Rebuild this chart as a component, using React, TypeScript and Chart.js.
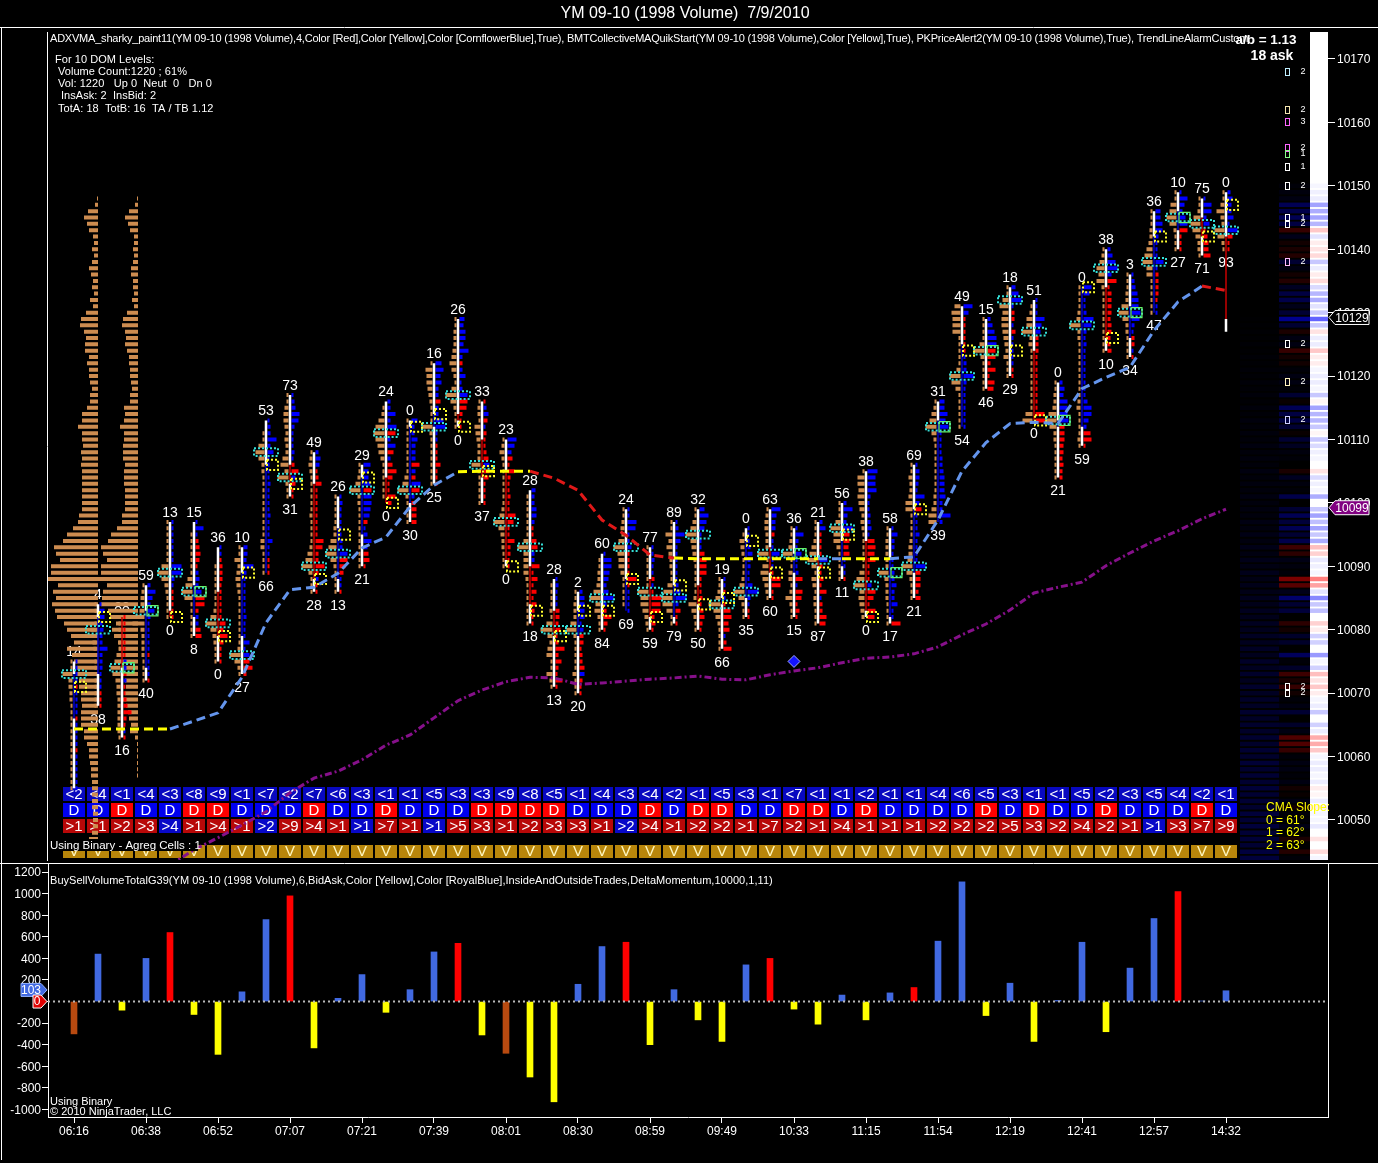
import React, { useEffect, useRef } from "react";
import { Chart, registerables } from "chart.js";

Chart.register(...registerables);

const FONT = '"Liberation Sans", Arial, sans-serif';

// ---------- axis labels ----------
const priceTicks = [10050, 10060, 10070, 10080, 10090, 10100, 10110, 10120, 10130, 10140, 10150, 10160, 10170];
const deltaTicks = [-1000, -800, -600, -400, -200, 0, 200, 400, 600, 800, 1000, 1200];
const timeTickIndex = [0, 3, 6, 9, 12, 15, 18, 21, 24, 27, 30, 33, 36, 39, 42, 45, 48];
const timeLabels = ["06:16", "06:38", "06:52", "07:07", "07:21", "07:39", "08:01", "08:30", "08:59", "09:49", "10:33", "11:15", "11:54", "12:19", "12:41", "12:57", "14:32"];

// ---------- price bars ----------
const highs = [10075, 10084, 10082, 10087, 10097, 10097, 10093, 10093, 10113, 10117, 10108, 10101, 10106, 10116, 10113, 10122, 10129, 10116, 10110, 10102, 10088, 10086, 10092, 10099, 10093, 10097, 10099, 10088, 10096, 10099, 10096, 10097, 10100, 10105, 10096, 10106, 10116, 10131, 10129, 10134, 10132, 10119, 10134, 10140, 10136, 10146, 10149, 10148, 10149];
const lows = [10055, 10068, 10063, 10072, 10082, 10079, 10075, 10073, 10089, 10101, 10086, 10086, 10090, 10100, 10097, 10103, 10112, 10100, 10090, 10081, 10071, 10070, 10080, 10083, 10080, 10081, 10080, 10077, 10082, 10085, 10082, 10081, 10088, 10082, 10081, 10085, 10097, 10112, 10118, 10120, 10113, 10104, 10109, 10124, 10123, 10130, 10140, 10139, 10127];
const bodyTops = [10073, 10082, 10082, 10083, 10083, 10087, 10086, 10089, 10106, 10106, 10103, 10096, 10104, 10104, 10112, 10114, 10114, 10110, 10105, 10090, 10083, 10083, 10080, 10088, 10088, 10087, 10087, 10085, 10094, 10093, 10092, 10091, 10094, 10094, 10091, 10099, 10113, 10125, 10118, 10120, 10124, 10113, 10134, 10134, 10131, 10142, 10146, 10145, 10142];
const bodyBottoms = [10066, 10073, 10074, 10074, 10082, 10082, 10079, 10079, 10089, 10103, 10088, 10088, 10095, 10100, 10100, 10112, 10113, 10104, 10091, 10084, 10079, 10079, 10080, 10083, 10082, 10082, 10084, 10084, 10085, 10089, 10089, 10090, 10090, 10083, 10082, 10089, 10097, 10112, 10118, 10120, 10113, 10112, 10112, 10126, 10126, 10130, 10143, 10142, 10129];
const barUp = [1, 1, 0, 1, 0, 1, 0, 1, 1, 0, 0, 1, 1, 0, 1, 1, 0, 0, 0, 0, 0, 1, 0, 1, 0, 1, 0, 1, 1, 0, 1, 0, 1, 0, 1, 1, 1, 1, 0, 1, 0, 1, 1, 0, 1, 1, 1, 0, 0];
const topLabels = ["14", "4", "88", "59", "13", "15", "36", "10", "53", "73", "49", "26", "29", "24", "0", "16", "26", "33", "23", "28", "28", "2", "60", "24", "77", "89", "32", "19", "0", "63", "36", "21", "56", "38", "58", "69", "31", "49", "15", "18", "51", "0", "0", "38", "3", "36", "10", "75", "0"];
const bottomLabels = ["", "38", "16", "40", "0", "8", "0", "27", "66", "31", "28", "13", "21", "0", "30", "25", "0", "37", "0", "18", "13", "20", "84", "69", "59", "79", "50", "66", "35", "60", "15", "87", "11", "0", "17", "21", "39", "54", "46", "29", "0", "21", "59", "10", "34", "47", "27", "71", "93"];
const bottomLabelPrices = [10055, 10068, 10063, 10072, 10082, 10079, 10075, 10073, 10089, 10101, 10086, 10086, 10090, 10100, 10097, 10103, 10112, 10100, 10090, 10081, 10071, 10070, 10080, 10083, 10080, 10081, 10080, 10077, 10082, 10085, 10082, 10081, 10088, 10082, 10081, 10085, 10097, 10112, 10118, 10120, 10113, 10104, 10109, 10124, 10123, 10130, 10140, 10139, 10140];
const pocPrices = [10073, 10080, 10074, 10083, 10089, 10086, 10081, 10076, 10108, 10104, 10090, 10092, 10102, 10111, 10102, 10112, 10117, 10106, 10097, 10093, 10080, 10080, 10085, 10093, 10086, 10085, 10095, 10084, 10086, 10092, 10092, 10091, 10096, 10087, 10089, 10090, 10112, 10120, 10124, 10132, 10127, 10113, 10128, 10137, 10130, 10138, 10145, 10144, 10143];
const markerPrices = [10071, 10082, 10074, 10083, 10082, 10086, 10079, 10089, 10106, 10103, 10088, 10095, 10104, 10100, 10112, 10114, 10112, 10105, 10090, 10083, 10079, 10083, 10083, 10088, 10082, 10087, 10084, 10085, 10094, 10089, 10092, 10089, 10095, 10082, 10089, 10099, 10112, 10124, 10124, 10124, 10113, 10113, 10134, 10126, 10130, 10142, 10145, 10142, 10147];
const markerGreen = [0, 0, 1, 1, 0, 1, 0, 0, 0, 0, 0, 0, 0, 0, 0, 0, 0, 0, 0, 0, 0, 0, 0, 0, 0, 0, 0, 0, 0, 0, 1, 0, 0, 0, 1, 0, 1, 0, 1, 0, 0, 1, 0, 0, 1, 0, 1, 0, 0];

// Footprint ladders: from each bar's high downward, one entry per point
const bidLadders = [
  [1, 1, 10, 4, 4, 3, 3, 2, 2, 2, 2, 2, 1, 1, 1, 1, 1, 1, 1, 1, 1],
  [1, 1, 1, 2, 6, 12, 4, 3, 2, 2, 2, 2, 2, 2, 2, 1, 1],
  [1, 1, 1, 1, 1, 2, 4, 6, 10, 8, 5, 4, 4, 3, 3, 3, 3, 3, 3, 1],
  [2, 3, 4, 4, 5, 8, 12, 4, 3, 3, 3, 3, 2, 2, 2, 1],
  [1, 1, 1, 1, 1, 1, 2, 7, 11, 7, 4, 3, 2, 1, 1, 1],
  [0, 0, 1, 1, 1, 1, 1, 1, 2, 5, 7, 11, 8, 2, 2, 2, 2, 1, 1],
  [0, 0, 0, 1, 1, 1, 1, 1, 1, 2, 3, 6, 11, 6, 4, 3, 2, 2, 1],
  [2, 2, 6, 3, 4, 5, 4, 3, 2, 2, 2, 2, 2, 2, 2, 2, 3, 11, 6, 3, 1],
  [0, 0, 1, 2, 6, 9, 6, 3, 3, 2, 2, 1, 1, 1, 1, 1, 2, 2, 1, 4, 4, 2, 1, 1, 1],
  [1, 1, 4, 5, 5, 4, 3, 4, 3, 3, 6, 8, 4, 11, 3, 2, 1],
  [1, 3, 4, 3, 2, 2, 1, 1, 1, 1, 3, 2, 2, 2, 2, 3, 5, 7, 11, 4, 2, 1, 1],
  [1, 1, 2, 2, 2, 3, 3, 6, 8, 11, 6, 3, 2, 1, 1, 1],
  [1, 1, 3, 5, 11, 3, 3, 2, 2, 1, 1, 1, 1, 1, 1, 1, 1],
  [0, 1, 3, 6, 9, 11, 9, 7, 6, 4, 2, 2, 1, 1, 1, 1, 0],
  [1, 1, 1, 1, 1, 2, 2, 2, 2, 4, 6, 11, 3, 2, 1, 1, 1],
  [1, 7, 6, 6, 5, 4, 3, 2, 2, 2, 11, 3, 2, 2, 1, 1, 1, 1, 1, 1],
  [1, 2, 3, 3, 3, 4, 5, 7, 5, 3, 2, 5, 11, 6, 3, 1, 1, 1],
  [1, 3, 3, 2, 6, 5, 4, 3, 3, 3, 9, 3, 2, 2, 1, 1, 1],
  [1, 3, 5, 3, 2, 1, 1, 1, 1, 1, 2, 3, 5, 11, 6, 4, 3, 3, 2, 1, 1],
  [0, 1, 1, 1, 1, 1, 1, 2, 5, 11, 5, 5, 5, 5, 3, 2, 2, 1, 1, 1, 1, 1],
  [0, 1, 1, 2, 2, 3, 2, 6, 12, 5, 3, 5, 6, 2, 2, 6, 3, 1],
  [1, 2, 3, 3, 3, 6, 10, 3, 2, 2, 2, 2, 2, 4, 2, 1, 1],
  [0, 1, 2, 3, 3, 4, 7, 11, 5, 6, 3, 2, 1],
  [1, 1, 3, 4, 3, 6, 11, 7, 6, 6, 4, 2, 1, 1, 1, 1, 0],
  [1, 1, 1, 2, 2, 1, 2, 11, 8, 8, 6, 4, 3, 1],
  [1, 1, 7, 4, 6, 4, 3, 3, 1, 2, 5, 9, 11, 10, 6, 2, 1],
  [1, 2, 4, 6, 11, 6, 5, 4, 3, 2, 2, 2, 2, 2, 3, 8, 5, 3, 2, 1],
  [1, 2, 3, 5, 12, 7, 5, 3, 2, 1, 1, 1],
  [0, 1, 5, 4, 3, 2, 1, 2, 3, 5, 11, 6, 3, 2, 1],
  [1, 3, 4, 4, 3, 3, 3, 11, 1, 6, 8, 6, 4, 3, 1],
  [1, 2, 3, 4, 10, 2, 2, 4, 4, 2, 3, 7, 3, 2, 1],
  [1, 1, 2, 3, 5, 7, 9, 5, 2, 5, 4, 2, 3, 3, 1, 1, 1],
  [1, 1, 2, 5, 10, 7, 7, 4, 2, 1, 1, 1, 1],
  [2, 7, 7, 6, 7, 6, 5, 3, 4, 3, 2, 2, 2, 2, 2, 2, 5, 8, 11, 5, 6, 5, 4, 3],
  [1, 2, 3, 3, 3, 3, 3, 10, 4, 3, 3, 3, 2, 2, 1, 1],
  [1, 2, 4, 3, 3, 4, 7, 7, 2, 2, 2, 2, 3, 4, 4, 5, 11, 6, 3, 2, 1, 1],
  [1, 3, 5, 7, 11, 5, 3, 2, 1, 1, 2, 2, 2, 2, 2, 3, 3, 5, 8, 8],
  [6, 9, 8, 8, 8, 2, 1, 1, 1, 2, 4, 11, 9, 5, 1, 1, 1, 1, 1, 1],
  [1, 1, 1, 2, 5, 11, 4, 2, 1, 1, 1, 1],
  [1, 2, 6, 9, 6, 7, 7, 6, 5, 4, 3, 5, 2, 1, 1],
  [0, 2, 3, 6, 6, 11, 3, 4, 2, 2, 2, 2, 2, 2, 2, 2, 2, 2, 7, 10],
  [1, 2, 3, 3, 4, 8, 11, 7, 3, 3, 2, 2, 2, 2, 1, 1],
  [1, 1, 1, 2, 3, 4, 11, 3, 3, 2, 1, 1, 1, 1, 1, 2, 2, 2, 3, 4, 1, 1, 2, 2, 3, 1],
  [1, 3, 5, 8, 6, 8, 3, 2, 1, 1, 1, 1, 1, 1, 1, 1, 1],
  [1, 2, 2, 3, 3, 7, 10, 6, 3, 3, 2, 2, 1, 1],
  [1, 1, 2, 3, 3, 4, 6, 8, 10, 6, 6, 2, 2, 1, 1, 1, 1],
  [1, 2, 6, 7, 10, 7, 3, 1, 1, 1],
  [1, 1, 3, 7, 10, 8, 5, 3, 3, 1],
  [1, 2, 4, 8, 4, 3, 10, 7, 3, 1],
];
// positive = blue (ask lifted), negative = red
const askLadders = [
  [1, 1, 1, 1, -1, 1, 1, 1, 1, -1, 1, 1, 1, 1, -1, 1, 1, 1, 1, 1, 1],
  [2, 5, 5, 3, 4, 3, 3, 8, 3, 3, 3, 2, 2, 1, -2, -1, -1],
  [-1, -1, -1, -1, -1, -1, -2, 3, 3, -3, 3, -2, -2, -3, -4, -8, -3, -2, 1, -2],
  [3, 8, 5, 3, 7, 3, 1, 1, 1, 1, 1, -2, 1, 1, 1, -1],
  [1, 1, 1, 1, 1, 1, 1, 10, 10, 3, 1, -1, -1, -1, -1, -1],
  [2, 8, 2, -3, -4, -5, -4, -2, 3, 4, 3, 6, -9, -9, -3, 3, 3, -5, -6],
  [1, 1, -2, -3, -3, -3, -2, -1, -1, -1, -1, -1, -6, -4, -8, -4, -2, -2, -1],
  [4, 4, 3, 10, 3, 2, 2, 2, 2, 2, 2, 3, 2, 2, 2, 6, 2, 6, -6, -9, -3],
  [2, 3, 3, 9, 3, 6, 2, 1, 2, 2, 3, 2, 2, 2, 2, 3, 2, 2, 2, 5, 2, 1, -1, -1, -1],
  [2, 3, 4, 8, 7, 3, 2, 2, 2, 3, 2, -3, -7, 4, -4, -2, -1],
  [3, 5, 4, -1, -3, -6, -1, -2, -2, -2, -2, -1, -1, -2, -8, -7, -3, -3, -9, -3, 3, -1, -2],
  [2, 3, 2, 2, 2, 1, 2, 3, 3, 8, -8, -6, -4, 1, 1, -1],
  [7, 5, 5, 7, -8, 8, 8, 7, 6, -4, 2, 4, 8, 4, -5, -6, -2],
  [3, 3, 8, 3, 9, -8, 3, 8, -6, 3, -5, -9, -5, -2, -1, -8, -4],
  [6, 3, 3, 6, 4, 4, 4, -8, 4, -4, 9, -8, 3, -4, -5, -5, -5],
  [6, 8, 5, 6, 3, 3, -5, 3, 3, 8, 10, 2, 1, -1, -1, -1, -5, -1, -1, -1],
  [5, 4, 6, 6, 4, 9, 3, -3, 3, 6, 2, 3, 8, -8, -7, -3, -1, -1],
  [-1, 3, 5, -4, 2, -3, -1, -1, -3, -5, 6, -6, -5, -2, -2, -1, -1],
  [9, 7, 4, -5, -1, -7, -3, -1, -2, -3, -2, -1, -8, -6, -2, -1, -7, -3, -3, -2, -2],
  [4, 3, 3, 5, 5, 3, -1, -1, -5, -6, 3, 3, -8, -1, -6, -1, -5, -1, -5, -3, -1, -1],
  [2, 3, 1, 1, 1, -4, -4, -3, -5, -2, -3, -9, -3, -6, -3, -1, -7, -2],
  [3, 5, 5, 5, 5, 2, 4, -4, -4, -2, -3, -3, -5, 5, -3, -2, -2],
  [1, 8, 8, 6, 5, 3, 5, 10, 3, -3, -8, -4, -2],
  [1, 1, 9, 8, 2, 1, 4, -1, -1, -1, -1, -9, -2, 1, 1, 1, 1],
  [2, 2, 3, 2, 2, -3, 2, -2, -10, -9, -9, -3, -4, -2],
  [2, 3, 9, 5, 1, 1, 1, 1, 1, 1, 3, 5, 11, 3, -5, -2, -1],
  [5, 9, 7, 5, 2, 2, 1, -5, -7, -7, -7, -1, -2, -2, -3, -2, -4, -5, -3, -1],
  [2, 2, -2, 2, -1, -7, -8, -5, -6, 2, -3, -8],
  [2, 2, 1, 3, 5, 3, 3, 2, 2, 5, 11, 3, 1, -1, -1],
  [9, 5, 4, 4, -3, 1, 1, 8, 1, 1, -2, -9, -9, -2, -1],
  [2, 8, 3, 2, 6, 2, 1, 3, -7, 1, -7, -6, -2, -4, -2],
  [3, 6, -1, -1, -1, -1, 8, -3, -1, -4, -1, -7, 1, -3, -3, -7, -6],
  [3, 9, 4, 3, 9, -6, -6, -5, -6, 2, 1, 1, -1],
  [10, 8, 8, 9, 3, 2, 2, 3, 3, 4, 2, -7, -8, -7, -8, -2, -2, -1, 4, -8, -6, -2, -8, -7],
  [2, 6, 3, 3, 2, 2, 1, 3, 3, 5, 3, 3, 6, 2, 1, -9],
  [1, 4, 4, 3, 2, 9, 4, -6, 1, 1, 2, 4, 2, 2, 1, 1, 10, -5, -5, -5, -3, -5],
  [5, 5, 8, 6, 9, 2, 2, 1, 1, 3, 3, 4, 5, 5, 5, 6, 3, 3, 11, 3],
  [9, 5, -2, -1, -1, -1, -1, -1, 2, 3, 3, 10, 3, 2, 2, 1, 1, 1, 1, 1],
  [3, 5, 7, 9, 9, -8, -8, -3, -8, -1, -7, -6],
  [4, 7, 10, 2, -3, -3, 1, -4, 2, 2, 2, 2, 2, -1, -1],
  [1, 1, 2, 9, 6, 5, -3, -3, -3, -1, -1, -1, -1, -1, -1, -1, -1, -1, -9, -10],
  [3, 5, 4, 8, 8, 8, 9, -5, -5, -5, -4, -4, -3, -4, -3, -3],
  [8, 6, 2, 2, 3, 10, 8, 3, 2, 3, 2, 2, 2, 2, 1, 1, 1, 1, 4, 8, 8, 5, 3, -7, -8, -2],
  [3, 5, 8, 10, 4, -9, -2, -4, -4, -4, -4, -3, -4, -4, -3, -3, -4],
  [2, 3, 4, 6, 7, 7, 9, 8, 3, 2, -3, -3, 1, -2],
  [5, 5, 7, 7, 3, 2, 1, 1, 8, 1, -3, -3, -3, -3, -2, 1, 1],
  [2, 8, 5, 3, 6, 8, -8, -1, -1, -1],
  [2, 8, 8, 3, 6, -2, -4, -5, -5, -7],
  [3, 5, 4, 4, 6, 1, 10, -5, -2, -1],
];

// ---------- moving averages ----------
const adxvma = [10064.35, 10064.35, 10064.35, 10064.35, 10064.35, 10065.6, 10066.9, 10072.5, 10081.1, 10086.3, 10086.7, 10088.9, 10092.9, 10094.6, 10099.4, 10102.8, 10104.9, 10105, 10105, 10105, 10103.9, 10102, 10097.3, 10094.9, 10091.8, 10091.3, 10091.2, 10091.2, 10091.2, 10091.2, 10091.2, 10091.2, 10091.2, 10091.2, 10091.2, 10091.5, 10097.3, 10105, 10109.5, 10112.5, 10112.7, 10112.5, 10118, 10119.8, 10121.4, 10127.2, 10131.7, 10134.2, 10133.5];
const adxvmaTrend = "yyyybbbbbbbbbbbbyyyrrrrrryyyyyybyybbbbbbbbbbbbbr";
const cmaPurple = [null, null, null, null, 10042.9, 10045.3, 10047.2, 10049.2, 10051.3, 10054.3, 10056.6, 10057.7, 10059.5, 10061.8, 10063.4, 10066.1, 10068.8, 10070.5, 10071.8, 10072.5, 10072.4, 10071.4, 10071.6, 10071.9, 10072.2, 10072.4, 10072.7, 10072.2, 10072.1, 10072.9, 10073.5, 10074, 10074.8, 10075.5, 10075.7, 10076.2, 10077.3, 10079.2, 10080.9, 10083.1, 10085.8, 10086.7, 10087.5, 10090.1, 10092.1, 10094, 10095.6, 10097.5, 10099];
const alertDiamond = [{ x: 30, y: 10075 }];

// ---------- volume profiles (from 10148 downward) ----------
const profileOne = [1, 3, 10, 14, 11, 9, 5, 4, 6, 4, 6, 9, 7, 5, 6, 4, 8, 5, 12, 17, 18, 14, 12, 13, 13, 9, 11, 9, 9, 8, 6, 8, 8, 11, 16, 16, 20, 16, 16, 15, 17, 16, 17, 16, 16, 16, 16, 16, 16, 16, 19, 20, 25, 31, 35, 44, 42, 38, 47, 47, 51, 40, 45, 42, 46, 43, 41, 34, 31, 27, 24, 31, 26, 24, 21, 21, 19, 19, 17, 17, 16, 17, 17, 17, 14, 14, 11, 9, 9, 8, 7, 7, 6, 6, 6, 6, 6, 5, 5, 5, 6, 9, 9];
const profileTwo = [1, 3, 9, 13, 10, 8, 4, 4, 5, 4, 5, 7, 7, 5, 5, 4, 6, 4, 11, 15, 16, 13, 12, 13, 11, 9, 9, 8, 8, 7, 6, 8, 8, 14, 13, 14, 18, 14, 14, 15, 15, 15, 13, 14, 14, 14, 13, 13, 13, 13, 16, 16, 21, 27, 30, 37, 35, 31, 37, 37, 40, 31, 35, 36, 37, 30, 28, 22, 26, 24, 20, 19, 19, 18, 17, 15, 13, 12, 13, 15, 12, 10, 9, 7, 8, 3, 1, 1, 1, 1, 1, 1];

// ---------- depth-of-market heat strip (from 10150 downward) ----------
const domStrength = [0.05, 0.08, 0.1, 0.5, 0.45, 0.5, 0.4, -0.3, 0.15, -0.1, -0.15, -0.2, 0.3, 0.1, -0.1, -0.2, 0.2, 0.4, 0.45, 0.15, 0.3, 0.85, 0.3, -0.15, 0.1, 0.1, -0.3, -0.1, -0.1, 0.05, 0.1, 0.1, 0.05, 0.3, -0.05, 0.5, 0.4, 0.4, 0.3, -0.05, 0.3, 0.2, 0.08, 0.05, 0, -0.15, 0.2, 0.08, 0.05, 0.45, 0, 0.3, 0.5, 0.35, 0.5, 0.3, 0.45, -0.35, -0.25, 0.12, 0.08, 0.05, -0.7, -0.5, 0.15, 0.65, 0.3, 0.35, 0, -0.25, -0.1, 0.25, 0.25, 0, 0.55, 0.05, 0.25, -0.35, -0.15, -0.3, -0.1, 0.05, 0.1, 0.3, 0, 0.25, 0.1, -0.45, -0.45, -0.3, 0.05, 0.1, 0.1, 0.05, 0.1, -0.1, -0.05, 0.1, -0.1, 0.05, 0.05, 0.12, 0, -0.15, 0, -0.2, 0.05];
// from 10129 downward
const domFar = [2, 3, 4, 3, 5, 3, 6, 4, 7, 5, 8, 6, 9, 5, 10, 7, 12, 8, 11, 9, 14, 10, 12, 9, 15, 10, 13, 11, 16, 12, 14, 12, 18, 13, 20, 14, 22, 16, 24, 18, 26, 20, 24, 22, 28, 24, 30, 26, 32, 28, 34, 30, 36, 28, 40, 32, 42, 30, 44, 34, 40, 36, 46, 38, 44, 40, 48, 42, 50, 44, 54, 46, 52, 48, 56, 50, 52, 46, 58, 52, 60, 54, 56, 50, 62, 60];
const domOrderPrices = [10168, 10162, 10160, 10156, 10155, 10153, 10150, 10145, 10144, 10138, 10125, 10119, 10113, 10071, 10070];
const domOrderSizes = ["2", "2", "3", "2", "1", "1", "2", "1", "2", "2", "2", "2", "2", "2", "2"];
const domOrderColors = ["#bfefff", "#f5e6b0", "#ff66ff", "#ff66ff", "#88ff88", "#ffffff", "#ffffff", "#ffffff", "#ffffff", "#ffbbff", "#ffffff", "#fff2c0", "#ccccff", "#ffffff", "#ffffff"];

// ---------- cell rows ----------
const lessRow = [2, 4, 1, 4, 3, 8, 9, 1, 7, 2, 7, 6, 3, 1, 1, 5, 3, 3, 9, 8, 5, 1, 4, 3, 4, 2, 1, 5, 3, 1, 7, 1, 1, 2, 1, 1, 4, 6, 5, 3, 1, 1, 5, 2, 3, 5, 4, 2, 1];
const dirRowRed = [0, 0, 1, 0, 0, 1, 1, 0, 0, 0, 1, 0, 0, 1, 0, 0, 0, 1, 1, 1, 1, 0, 0, 0, 1, 0, 1, 1, 0, 0, 1, 1, 0, 1, 0, 0, 0, 0, 1, 0, 1, 0, 0, 1, 0, 0, 0, 1, 0];
const moreRow = [1, 1, 2, 3, 4, 1, 4, 1, 2, 9, 4, 1, 1, 7, 1, 1, 5, 3, 1, 2, 3, 3, 1, 2, 4, 1, 2, 2, 1, 7, 2, 1, 4, 1, 1, 1, 2, 2, 2, 5, 3, 2, 4, 2, 1, 1, 3, 7, 9];
const moreRowBlue = [0, 0, 0, 0, 1, 0, 0, 0, 1, 0, 0, 0, 1, 0, 0, 1, 0, 0, 0, 0, 0, 0, 0, 1, 0, 0, 0, 0, 0, 0, 0, 0, 0, 0, 0, 0, 0, 0, 0, 0, 0, 0, 0, 0, 0, 1, 0, 0, 0];

// ---------- lower panel ----------
const deltaValues = [-300, 440, -80, 400, 640, -120, -490, 90, 760, 980, -430, 30, 250, -100, 110, 460, 540, -310, -480, -700, -930, 160, 510, 550, -400, 110, -170, -370, 340, 400, -70, -210, 60, -170, 80, 130, 560, 1110, -130, 170, -370, 10, 550, -280, 310, 770, 1020, 5, 100];
const deltaColorKeys = "obybryybbrybbybbryoyybbrybyybryybybrbbybybbybbrbb".split("");
const deltaPalette = { o: "#b84a10", b: "#4169e1", y: "#ffff00", r: "#ff0000" };

const X_MIN = -26 / 24;
const X_MAX = 1254 / 24;
const px = (n) => n / 24;

type Pt = { x: number; y: number | null };
const lineDs = (data, color, width, extra = {}) => ({
  type: "line", data, borderColor: color, borderWidth: width, pointRadius: 0, pointHoverRadius: 0,
  tension: 0, spanGaps: false, borderCapStyle: "butt", fill: false, ...extra,
});
const gap = (x: number): Pt => ({ x, y: null });
const hSeg = (out: Pt[], x0: number, x1: number, y: number) => { out.push({ x: x0, y }, { x: x1, y }, gap(x1)); };
const vSeg = (out: Pt[], x: number, y0: number, y1: number) => { if (y0 !== y1) out.push({ x, y: y0 }, { x, y: y1 }, gap(x)); };
const box = (out: Pt[], x0: number, x1: number, y0: number, y1: number) => {
  out.push({ x: x0, y: y0 }, { x: x1, y: y0 }, { x: x1, y: y1 }, { x: x0, y: y1 }, { x: x0, y: y0 }, gap(x0));
};

function buildTopDatasets() {
  const tan: Pt[] = [], blue: Pt[] = [], red: Pt[] = [], white: Pt[] = [], thinB: Pt[] = [], thinR: Pt[] = [];
  const cyan: Pt[] = [], yellow: Pt[] = [], green: Pt[] = [], prof: Pt[] = [];
  const minW = (v: number) => Math.max(2, v);
  profileOne.forEach((w, k) => hSeg(prof, px(98 - 74) - px(w), px(98 - 74), 10148 - k));
  profileTwo.forEach((w, k) => hSeg(prof, px(138 - 74) - px(w), px(138 - 74), 10148 - k));
  highs.forEach((h, i) => {
    bidLadders[i].forEach((w, k) => { if (w) hSeg(tan, i - px(1.5 + minW(w)), i - px(1.5), h - k); });
    askLadders[i].forEach((w, k) => {
      if (w) hSeg(w > 0 ? blue : red, i + px(1.5), i + px(1.5 + minW(Math.abs(w))), h - k);
    });
    vSeg(white, i, h, bodyTops[i]);
    vSeg(white, i, bodyBottoms[i], lows[i]);
    vSeg(barUp[i] ? thinB : thinR, i, bodyTops[i], bodyBottoms[i]);
    box(cyan, i - px(12), i + px(12), pocPrices[i] + 0.6, pocPrices[i] - 0.6);
    box(markerGreen[i] ? green : yellow, i + px(1), i + px(12), markerPrices[i] + 0.8, markerPrices[i] - 0.8);
  });

  const stripC: Pt[] = [], stripB: Pt[] = [], stripA: Pt[] = [];
  const colC: string[] = [], colB: string[] = [], colA: string[] = [];
  domStrength.forEach((s, k) => {
    const y = 10150 - k;
    const a = Math.abs(s);
    hSeg(stripC, px(1310 - 74), px(1328 - 74), y);
    hSeg(stripB, px(1279 - 74), px(1310 - 74), y);
    const fade = Math.round(255 * (1 - 0.72 * a));
    colC.push(s >= 0 ? `rgb(${fade},${fade},255)` : `rgb(255,${fade},${fade})`);
    colB.push(s >= 0 ? `rgb(0,0,${Math.round(165 * a)})` : `rgb(${Math.round(175 * a)},0,0)`);
  });
  domFar.forEach((v, k) => {
    hSeg(stripA, px(1240 - 74), px(1279 - 74), 10129 - k);
    colA.push(`rgb(0,0,${v})`);
  });

  const seriesColor = { y: "#ffff00", b: "#6495ed", r: "#e01818" };
  const adxData = adxvma.map((y, x) => ({ x, y }));
  const purpleData = cmaPurple.map((y, x) => ({ x, y }));

  // paint order, first painted first
  const ordered = [
    lineDs(stripA, "#000020", 4.5, { segment: { borderColor: (c) => colA[Math.floor(c.p0DataIndex / 3)] } }),
    lineDs(stripB, "#000080", 4.5, { segment: { borderColor: (c) => colB[Math.floor(c.p0DataIndex / 3)] } }),
    lineDs(stripC, "#ffffff", 4.5, { segment: { borderColor: (c) => colC[Math.floor(c.p0DataIndex / 3)] } }),
    lineDs(prof, "#cd8c50", 4),
    lineDs(tan, "#cd8c50", 4),
    lineDs(blue, "#0000ff", 4),
    lineDs(red, "#ff0000", 4),
    lineDs(thinB, "#0000c8", 1.5),
    lineDs(thinR, "#c80000", 1.5),
    lineDs(white, "#ffffff", 2.5),
    lineDs(cyan, "#35e0d8", 2, { borderDash: [2, 2] }),
    lineDs(yellow, "#ffff30", 2, { borderDash: [2, 2] }),
    lineDs(green, "#66f066", 1.2),
    lineDs(purpleData, "#86108a", 3, { borderDash: [7, 3, 2, 3] }),
    lineDs(adxData, "#6495ed", 3, {
      borderDash: [9, 5],
      segment: { borderColor: (c) => seriesColor[adxvmaTrend[c.p0DataIndex]] },
    }),
    { type: "scatter", data: alertDiamond, pointStyle: "rectRot", pointRadius: 6, backgroundColor: "#1414ff", borderColor: "#a0a8ff", borderWidth: 1 },
  ];
  return ordered.reverse();
}

// "middle" sits a little above the digits' optical centre, hence the 1px nudge
const text = (ctx, s, x, y, font, color = "#fff", align = "left", spacing = "0px") => {
  ctx.font = font; ctx.fillStyle = color; ctx.textAlign = align; ctx.textBaseline = "middle";
  ctx.letterSpacing = spacing;
  ctx.fillText(s, x, y + 1);
  ctx.letterSpacing = "0px";
};

const headerLine = "ADXVMA_sharky_paint11(YM 09-10 (1998 Volume),4,Color [Red],Color [Yellow],Color [CornflowerBlue],True), BMTCollectiveMAQuikStart(YM 09-10 (1998 Volume),Color [Yellow],True), PKPriceAlert2(YM 09-10 (1998 Volume),True), TrendLineAlarmCustom";
const infoLines = [
  ["For 10 DOM Levels:", 55, 59],
  ["Volume Count:1220 ; 61%", 58, 71],
  ["Vol: 1220   Up 0  Neut  0   Dn 0", 58, 83],
  ["InsAsk: 2  InsBid: 2", 61, 95],
  ["TotA: 18  TotB: 16  TA / TB 1.12", 58, 108],
];

const topPlugin = {
  id: "topPaint",
  beforeDraw(chart) {
    const { ctx, scales: { x, y } } = chart;
    ctx.save();
    ctx.fillStyle = "#000";
    ctx.fillRect(0, 0, chart.width, chart.height);
    text(ctx, "YM 09-10 (1998 Volume)  7/9/2010", 685, 13, `16px ${FONT}`, "#fff", "center");
    text(ctx, headerLine, 50, 38, `11px ${FONT}`, "#fff", "left", "-0.21px");
    infoLines.forEach(([s, lx, ly]) => text(ctx, s, lx, ly, `11px ${FONT}`, "#fff", "left", "0.05px"));
    // frame
    ctx.strokeStyle = "#fff"; ctx.lineWidth = 1;
    ctx.beginPath();
    ctx.moveTo(0, 27.5); ctx.lineTo(1378, 27.5);
    ctx.moveTo(1.5, 27); ctx.lineTo(1.5, 863);
    ctx.moveTo(47.5, 32); ctx.lineTo(47.5, 861);
    ctx.stroke();
    // white depth column
    ctx.fillStyle = "#fff";
    const colL = x.getPixelForValue(px(1310 - 74));
    ctx.fillRect(colL, 32, x.getPixelForValue(px(1328 - 74)) - colL, 828);
    // cell rows
    const rows = [[787, 14], [803, 14], [819, 14], [845, 13]];
    highs.forEach((_, i) => {
      const cx = x.getPixelForValue(i);
      const cell = (r, fill, s, color = "#fff") => {
        ctx.fillStyle = fill;
        ctx.fillRect(cx - 11, rows[r][0], 22, rows[r][1]);
        text(ctx, s, cx, rows[r][0] + rows[r][1] / 2 - 0.5, `15px ${FONT}`, color, "center");
      };
      cell(0, "#0808c0", `<${lessRow[i]}`);
      cell(1, dirRowRed[i] ? "#ff0000" : "#0000f0", "D");
      cell(2, moreRowBlue[i] ? "#0808c8" : "#b80808", `>${moreRow[i]}`);
      cell(3, "#b8860b", "V", "#fff8c0");
      text(ctx, topLabels[i], cx, y.getPixelForValue(highs[i]) - 10, `14px ${FONT}`, "#fff", "center");
      if (bottomLabels[i]) text(ctx, bottomLabels[i], cx, y.getPixelForValue(bottomLabelPrices[i]) + 13, `14px ${FONT}`, "#fff", "center");
    });
    ctx.restore();
  },
  afterDraw(chart) {
    const { ctx, scales: { y } } = chart;
    ctx.save();
    // header overlay
    text(ctx, "a/b = 1.13", 1266, 39, `bold 13.5px ${FONT}`, "#fff", "center");
    text(ctx, "18 ask", 1272, 55, `bold 14px ${FONT}`, "#fff", "center");
    // resting order marks
    domOrderPrices.forEach((p, k) => {
      const ly = Math.round(y.getPixelForValue(p));
      ctx.strokeStyle = domOrderColors[k]; ctx.lineWidth = 1;
      ctx.strokeRect(1285.5, ly - 3.5, 4, 7);
      text(ctx, domOrderSizes[k], 1303, ly - 1, `9px ${FONT}`, "#fff", "center");
    });
    // yellow CMA block
    text(ctx, "CMA Slope:", 1266, 807, `12px ${FONT}`, "#ffff00");
    text(ctx, "0 = 61°", 1266, 820, `12px ${FONT}`, "#ffff00");
    text(ctx, "1 = 62°", 1266, 832, `12px ${FONT}`, "#ffff00");
    text(ctx, "2 = 63°", 1266, 845, `12px ${FONT}`, "#ffff00");
    // binary note
    ctx.fillStyle = "#000";
    ctx.fillRect(48, 839, 150, 12);
    text(ctx, "Using Binary - Agreg Cells : 1", 50, 845, `11.5px ${FONT}`);
    // price tags
    const tag = (price, fill, textColor) => {
      const ty = y.getPixelForValue(price) - 1.5;
      ctx.beginPath();
      ctx.moveTo(1329, ty); ctx.lineTo(1335, ty - 7); ctx.lineTo(1369, ty - 7); ctx.lineTo(1369, ty + 7); ctx.lineTo(1335, ty + 7); ctx.closePath();
      ctx.fillStyle = fill; ctx.fill();
      ctx.strokeStyle = "#fff"; ctx.lineWidth = 1; ctx.stroke();
      text(ctx, String(price), 1352, ty, `12px ${FONT}`, textColor, "center");
    };
    tag(10129, "#000", "#fff");
    tag(10099, "#800080", "#fff");
    ctx.restore();
  },
};

const bottomPlugin = {
  id: "bottomPaint",
  beforeDraw(chart) {
    const { ctx } = chart;
    ctx.save();
    ctx.fillStyle = "#000";
    ctx.fillRect(0, 0, chart.width, chart.height);
    ctx.strokeStyle = "#fff"; ctx.lineWidth = 1;
    ctx.beginPath();
    ctx.moveTo(0, 1.5); ctx.lineTo(1378, 1.5);
    ctx.moveTo(1.5, 0); ctx.lineTo(1.5, 298);
    ctx.moveTo(1328.5, 1); ctx.lineTo(1328.5, 256);
    ctx.stroke();
    text(ctx, "BuySellVolumeTotalG39(YM 09-10 (1998 Volume),6,BidAsk,Color [Yellow],Color [RoyalBlue],InsideAndOutsideTrades,DeltaMomentum,10000,1,11)", 50, 18, `11px ${FONT}`, "#fff", "left", "0.04px");
    ctx.restore();
  },
  afterDraw(chart) {
    const { ctx, scales: { y } } = chart;
    ctx.save();
    text(ctx, "Using Binary", 50, 239, `11px ${FONT}`);
    text(ctx, "© 2010 NinjaTrader, LLC", 50, 249, `11px ${FONT}`);
    const tag = (val, left, fill, s, ty) => {
      ctx.beginPath();
      ctx.moveTo(left, ty - 6.5); ctx.lineTo(41, ty - 6.5); ctx.lineTo(47, ty); ctx.lineTo(41, ty + 6.5); ctx.lineTo(left, ty + 6.5); ctx.closePath();
      ctx.fillStyle = fill; ctx.fill();
      ctx.strokeStyle = val ? "#8fb0ff" : "#fff"; ctx.lineWidth = 1; ctx.stroke();
      text(ctx, s, (left + 41) / 2, ty - 0.5, `12px ${FONT}`, "#fff", "center");
    };
    tag(103, 21, "#4169e1", "103", y.getPixelForValue(103) - 0.5);
    tag(0, 33, "#e00000", "0", y.getPixelForValue(0));
    ctx.restore();
  },
};

// the panel edges are set by the layout padding alone, not by half a label height
const noLabelPadding = (s) => {
  s.paddingTop = 0; s.paddingBottom = 0; s.paddingLeft = 0; s.paddingRight = 0;
  if (s._margins) { s._margins.top = 0; s._margins.bottom = 0; s._margins.left = 0; s._margins.right = 0; }
};

export default function App() {
  const topRef = useRef(null);
  const bottomRef = useRef(null);

  useEffect(() => {
    Chart.defaults.font.family = FONT;
    document.body.style.margin = "0";
    document.body.style.background = "#000";
    const noUi = { legend: { display: false }, tooltip: { enabled: false }, title: { display: false } };

    const top = new Chart(topRef.current, {
      type: "line",
      data: { datasets: buildTopDatasets() },
      options: {
        responsive: false, animation: false, devicePixelRatio: 1, events: [],
        layout: { autoPadding: false, padding: { left: 48, right: 0, top: 27, bottom: 3 } },
        plugins: noUi,
        scales: {
          x: { type: "linear", display: false, min: X_MIN, max: X_MAX, afterFit: noLabelPadding },
          y: {
            type: "linear", position: "right", min: 10043.69, max: 10175.04,
            afterFit: (s) => { s.width = 50; noLabelPadding(s); },
            afterBuildTicks: (s) => { s.ticks = priceTicks.map((value) => ({ value })); },
            grid: { drawOnChartArea: false, drawTicks: true, tickLength: 7, color: "#fff", tickWidth: 1 },
            border: { display: false },
            ticks: { color: "#fff", padding: 2, labelOffset: 1, font: { size: 12, family: FONT }, callback: (v) => String(v), autoSkip: false },
          },
        },
      },
      plugins: [topPlugin],
    });

    const zero = [{ x: X_MIN, y: 0 }, { x: X_MAX, y: 0 }];
    const bottom = new Chart(bottomRef.current, {
      type: "bar",
      data: {
        datasets: [
          lineDs(zero, "#b8b8b8", 2, { borderDash: [2, 3] }),
          {
            type: "bar",
            data: deltaValues.map((y, x) => ({ x, y })),
            backgroundColor: deltaColorKeys.map((k) => deltaPalette[k]),
            barThickness: 6,
            borderWidth: 0,
          },
        ],
      },
      options: {
        responsive: false, animation: false, devicePixelRatio: 1, events: [],
        layout: { autoPadding: false, padding: { left: 0, right: 50, top: 1, bottom: 0 } },
        plugins: noUi,
        scales: {
          x: {
            type: "linear", position: "bottom", min: X_MIN, max: X_MAX, offset: false,
            afterFit: (s) => { s.height = 46; noLabelPadding(s); },
            afterBuildTicks: (s) => { s.ticks = timeTickIndex.map((value) => ({ value })); },
            grid: { offset: false, drawOnChartArea: false, drawTicks: true, tickLength: 6, color: "#fff" },
            border: { display: true, color: "#fff", width: 1 },
            ticks: {
              color: "#fff", padding: 1, autoSkip: false, maxRotation: 0, font: { size: 12, family: FONT },
              callback: (v) => timeLabels[timeTickIndex.indexOf(v)] ?? "",
            },
          },
          y: {
            type: "linear", position: "left", min: -1071, max: 1285,
            afterFit: (s) => { s.width = 48; noLabelPadding(s); },
            afterBuildTicks: (s) => { s.ticks = deltaTicks.map((value) => ({ value })); },
            grid: { drawOnChartArea: false, drawTicks: true, tickLength: 6, color: "#fff" },
            border: { display: true, color: "#fff", width: 1 },
            ticks: { color: "#fff", padding: 1, labelOffset: 1, autoSkip: false, font: { size: 12, family: FONT }, callback: (v) => String(v) },
          },
        },
      },
      plugins: [bottomPlugin],
    });

    return () => { top.destroy(); bottom.destroy(); };
  }, []);

  return (
    <div style={{ position: "fixed", left: 0, top: 0, width: 1378, height: 1163, background: "#000", overflow: "hidden" }}>
      <canvas ref={topRef} width={1378} height={863} style={{ position: "absolute", left: 0, top: 0, display: "block" }} />
      <canvas ref={bottomRef} width={1378} height={301} style={{ position: "absolute", left: 0, top: 862, display: "block" }} />
    </div>
  );
}
